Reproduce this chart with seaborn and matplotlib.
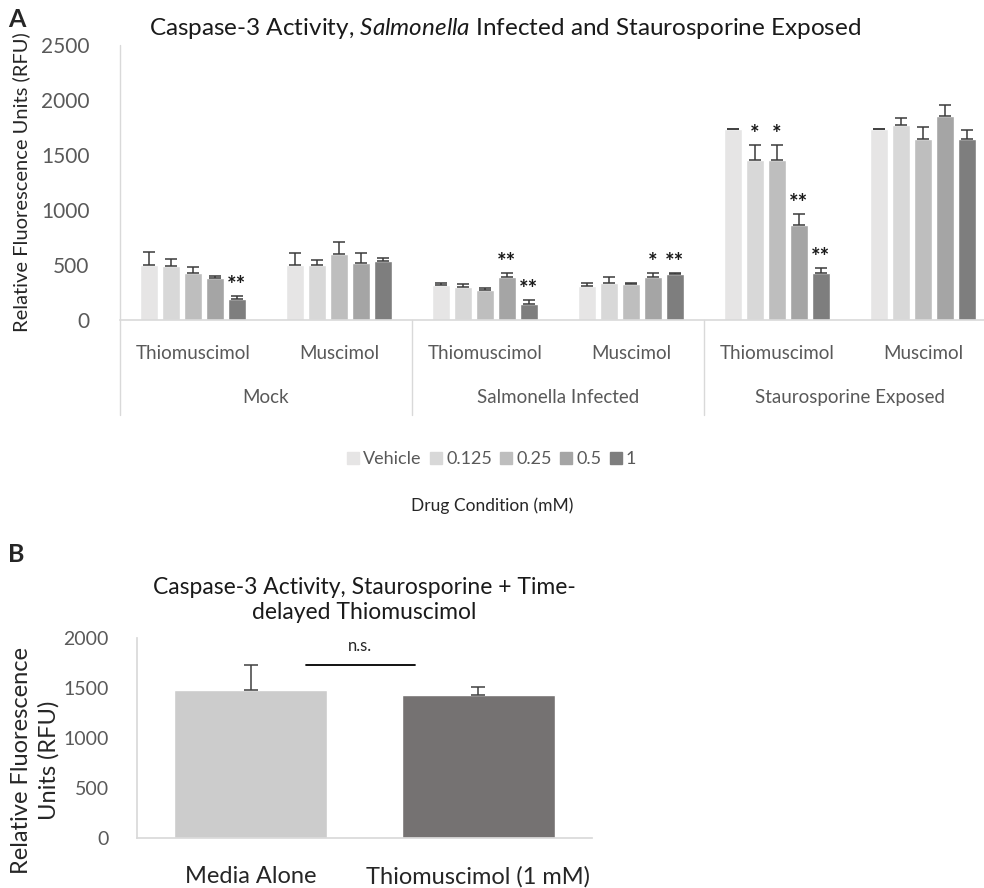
import numpy as np
import pandas as pd
import seaborn as sns
import matplotlib.pyplot as plt
from matplotlib.lines import Line2D
import matplotlib.transforms as mtransforms

# data, panel A
groups = ["Mock", "Salmonella Infected", "Staurosporine Exposed"]
drugs = ["Thiomuscimol", "Muscimol"]
doses = ["Vehicle", "0.125", "0.25", "0.5", "1"]

mock_thio = [500, 490, 425, 380, 190]
mock_musc = [500, 500, 600, 520, 540]
salm_thio = [318, 300, 272, 390, 150]
salm_musc = [310, 340, 330, 395, 420]
stau_thio = [1736, 1455, 1455, 862, 430]
stau_musc = [1736, 1775, 1645, 1855, 1645]

mock_thio_err = [118, 65, 57, 20, 28]
mock_musc_err = [110, 45, 110, 90, 25]
salm_thio_err = [22, 25, 18, 37, 30]
salm_musc_err = [25, 50, 5, 30, 7]
stau_thio_err = [5, 135, 135, 98, 45]
stau_musc_err = [5, 60, 110, 100, 82]

mock_thio_sig = ["", "", "", "", "**"]
mock_musc_sig = ["", "", "", "", ""]
salm_thio_sig = ["", "", "", "**", "**"]
salm_musc_sig = ["", "", "", "*", "**"]
stau_thio_sig = ["", "*", "*", "**", "**"]
stau_musc_sig = ["", "", "", "", ""]

dose_colors = ["#e6e5e5", "#d8d8d8", "#bebebe", "#a5a5a5", "#7e7e7e"]

# data, panel B
b_labels = ["Media Alone", "Thiomuscimol (1 mM)"]
b_means = [1480, 1430]
b_err = [250, 80]
b_colors = ["#cccccc", "#767171"]

sns.set_theme(style="white")
plt.rcParams["font.family"] = ["Lato", "DejaVu Sans"]
plt.rcParams["mathtext.fontset"] = "custom"
plt.rcParams["mathtext.rm"] = "Lato"
plt.rcParams["mathtext.it"] = "Lato:italic"
grey_txt = "#595959"
line_grey = "#d9d9d9"

means = [mock_thio, mock_musc, salm_thio, salm_musc, stau_thio, stau_musc]
errs = [mock_thio_err, mock_musc_err, salm_thio_err, salm_musc_err,
        stau_thio_err, stau_musc_err]
sigs = [mock_thio_sig, mock_musc_sig, salm_thio_sig, salm_musc_sig,
        stau_thio_sig, stau_musc_sig]
clusters = [g + "|" + d for g in groups for d in drugs]

rows = []
for c, m in zip(clusters, means):
    for dose, v in zip(doses, m):
        rows.append({"cluster": c, "dose": dose, "rfu": v})
df = pd.DataFrame(rows)

fig = plt.figure(figsize=(9.84, 8.88), dpi=100)

# ---- panel A
ax = fig.add_axes([0.122, 0.6396, 0.890, 0.3097])
sns.barplot(data=df, x="cluster", y="rfu", hue="dose", order=clusters,
            hue_order=doses, palette=dose_colors, width=0.75, gap=0.18,
            errorbar=None, legend=False, ax=ax)
bar_conts = list(ax.containers)
for i, cont in enumerate(bar_conts):
    for j, p in enumerate(cont.patches):
        x = p.get_x() + p.get_width() / 2
        h = p.get_height()
        e = errs[j][i]
        ax.errorbar(x, h, yerr=[[0], [e]], color="#3a3a3a", lw=1.1,
                    capsize=4.5, capthick=1.1)
        if sigs[j][i]:
            ax.annotate(sigs[j][i], (x, h + e), xytext=(0, 0),
                        textcoords="offset points", ha="center", va="bottom",
                        fontsize=16, fontweight="bold", color="#1a1a1a")

ax.set_ylim(0, 2500)
ax.set_xlim(-0.5, 5.5)
ax.set_yticks(np.arange(0, 2501, 500))
ax.set_yticklabels([str(v) for v in range(0, 2501, 500)], fontsize=15,
                   color=grey_txt)
ax.tick_params(axis="y", length=0, pad=22)
ax.set_xticks(range(6))
ax.set_xticklabels([])
ax.tick_params(axis="x", length=0)
ax.set_xlabel("")
ax.set_ylabel("Relative Fluorescence Units (RFU)", fontsize=14.5,
              color="#262626", labelpad=8)
for s in ["top", "right", "left"]:
    ax.spines[s].set_visible(False)
ax.spines["bottom"].set_color(line_grey)
ax.spines["bottom"].set_linewidth(1.2)

trans = mtransforms.blended_transform_factory(ax.transData, ax.transAxes)
for k, c in enumerate(clusters):
    ax.text(k, -0.12, c.split("|")[1], transform=trans, ha="center",
            va="center", fontsize=13.5, color=grey_txt)
for g, name in enumerate(groups):
    ax.text(2 * g + 0.5, -0.28, name, transform=trans, ha="center",
            va="center", fontsize=13.5, color=grey_txt)
for xs in [-0.5, 1.5, 3.5]:
    top = 1.0 if xs == -0.5 else 0.0
    ax.plot([xs, xs], [-0.345, top], transform=trans, color=line_grey,
            lw=1, clip_on=False)

ax.set_title("Caspase-3 Activity, $\\mathit{Salmonella}$ Infected and "
             "Staurosporine Exposed", fontsize=17.5, color="#1a1a1a",
             x=0.44, pad=7)

handles = [Line2D([], [], marker="s", ls="", color=col, markersize=8.5)
           for col in dose_colors]
leg = fig.legend(handles, doses, loc="center", bbox_to_anchor=(0.5, 0.483),
                 ncol=5, frameon=False, handlelength=0.6, handletextpad=0.25,
                 columnspacing=0.5, prop={"size": 13})
for t in leg.get_texts():
    t.set_color(grey_txt)

fig.text(0.5, 0.431, "Drug Condition (mM)", ha="center", va="center",
         fontsize=12.5, color="#262626")
fig.text(0.008, 0.978, "A", fontsize=18, fontweight="bold", va="center")
fig.text(0.008, 0.375, "B", fontsize=18, fontweight="bold", va="center")

# ---- panel B
axb = fig.add_axes([0.139, 0.0563, 0.463, 0.225])
dfb = pd.DataFrame({"cond": b_labels, "rfu": b_means})
sns.barplot(data=dfb, x="cond", y="rfu", hue="cond", palette=b_colors,
            width=0.67, errorbar=None, legend=False, ax=axb)
for cont in list(axb.containers):
    for p in cont.patches:
        x = p.get_x() + p.get_width() / 2
        k = int(round(x))
        axb.errorbar(x, p.get_height(), yerr=[[0], [b_err[k]]],
                     color="#404040", lw=1.1, capsize=5, capthick=1.1)
axb.set_ylim(0, 2000)
axb.set_xlim(-0.5, 1.5)
axb.set_yticks(np.arange(0, 2001, 500))
axb.set_yticklabels([str(v) for v in range(0, 2001, 500)], fontsize=14,
                    color=grey_txt)
axb.tick_params(axis="y", length=0, pad=20)
axb.tick_params(axis="x", length=0, pad=20, labelsize=17, labelcolor="#262626")
axb.set_xlabel("")
axb.set_ylabel("Relative Fluorescence\nUnits (RFU)", fontsize=17,
               color="#262626", linespacing=1.35)
axb.yaxis.set_label_coords(-0.17, 0.39)
for s in ["top", "right"]:
    axb.spines[s].set_visible(False)
for s in ["left", "bottom"]:
    axb.spines[s].set_color(line_grey)
axb.plot([0.245, 0.72], [1730, 1730], color="black", lw=1.3)
axb.text(0.48, 1920, "n.s.", ha="center", va="center", fontsize=12,
         color="#262626")
axb.set_title("Caspase-3 Activity, Staurosporine + Time-\ndelayed Thiomuscimol",
              fontsize=16.5, color="#1a1a1a", pad=14, linespacing=1.25)

fig.savefig("out.png", dpi=100)
